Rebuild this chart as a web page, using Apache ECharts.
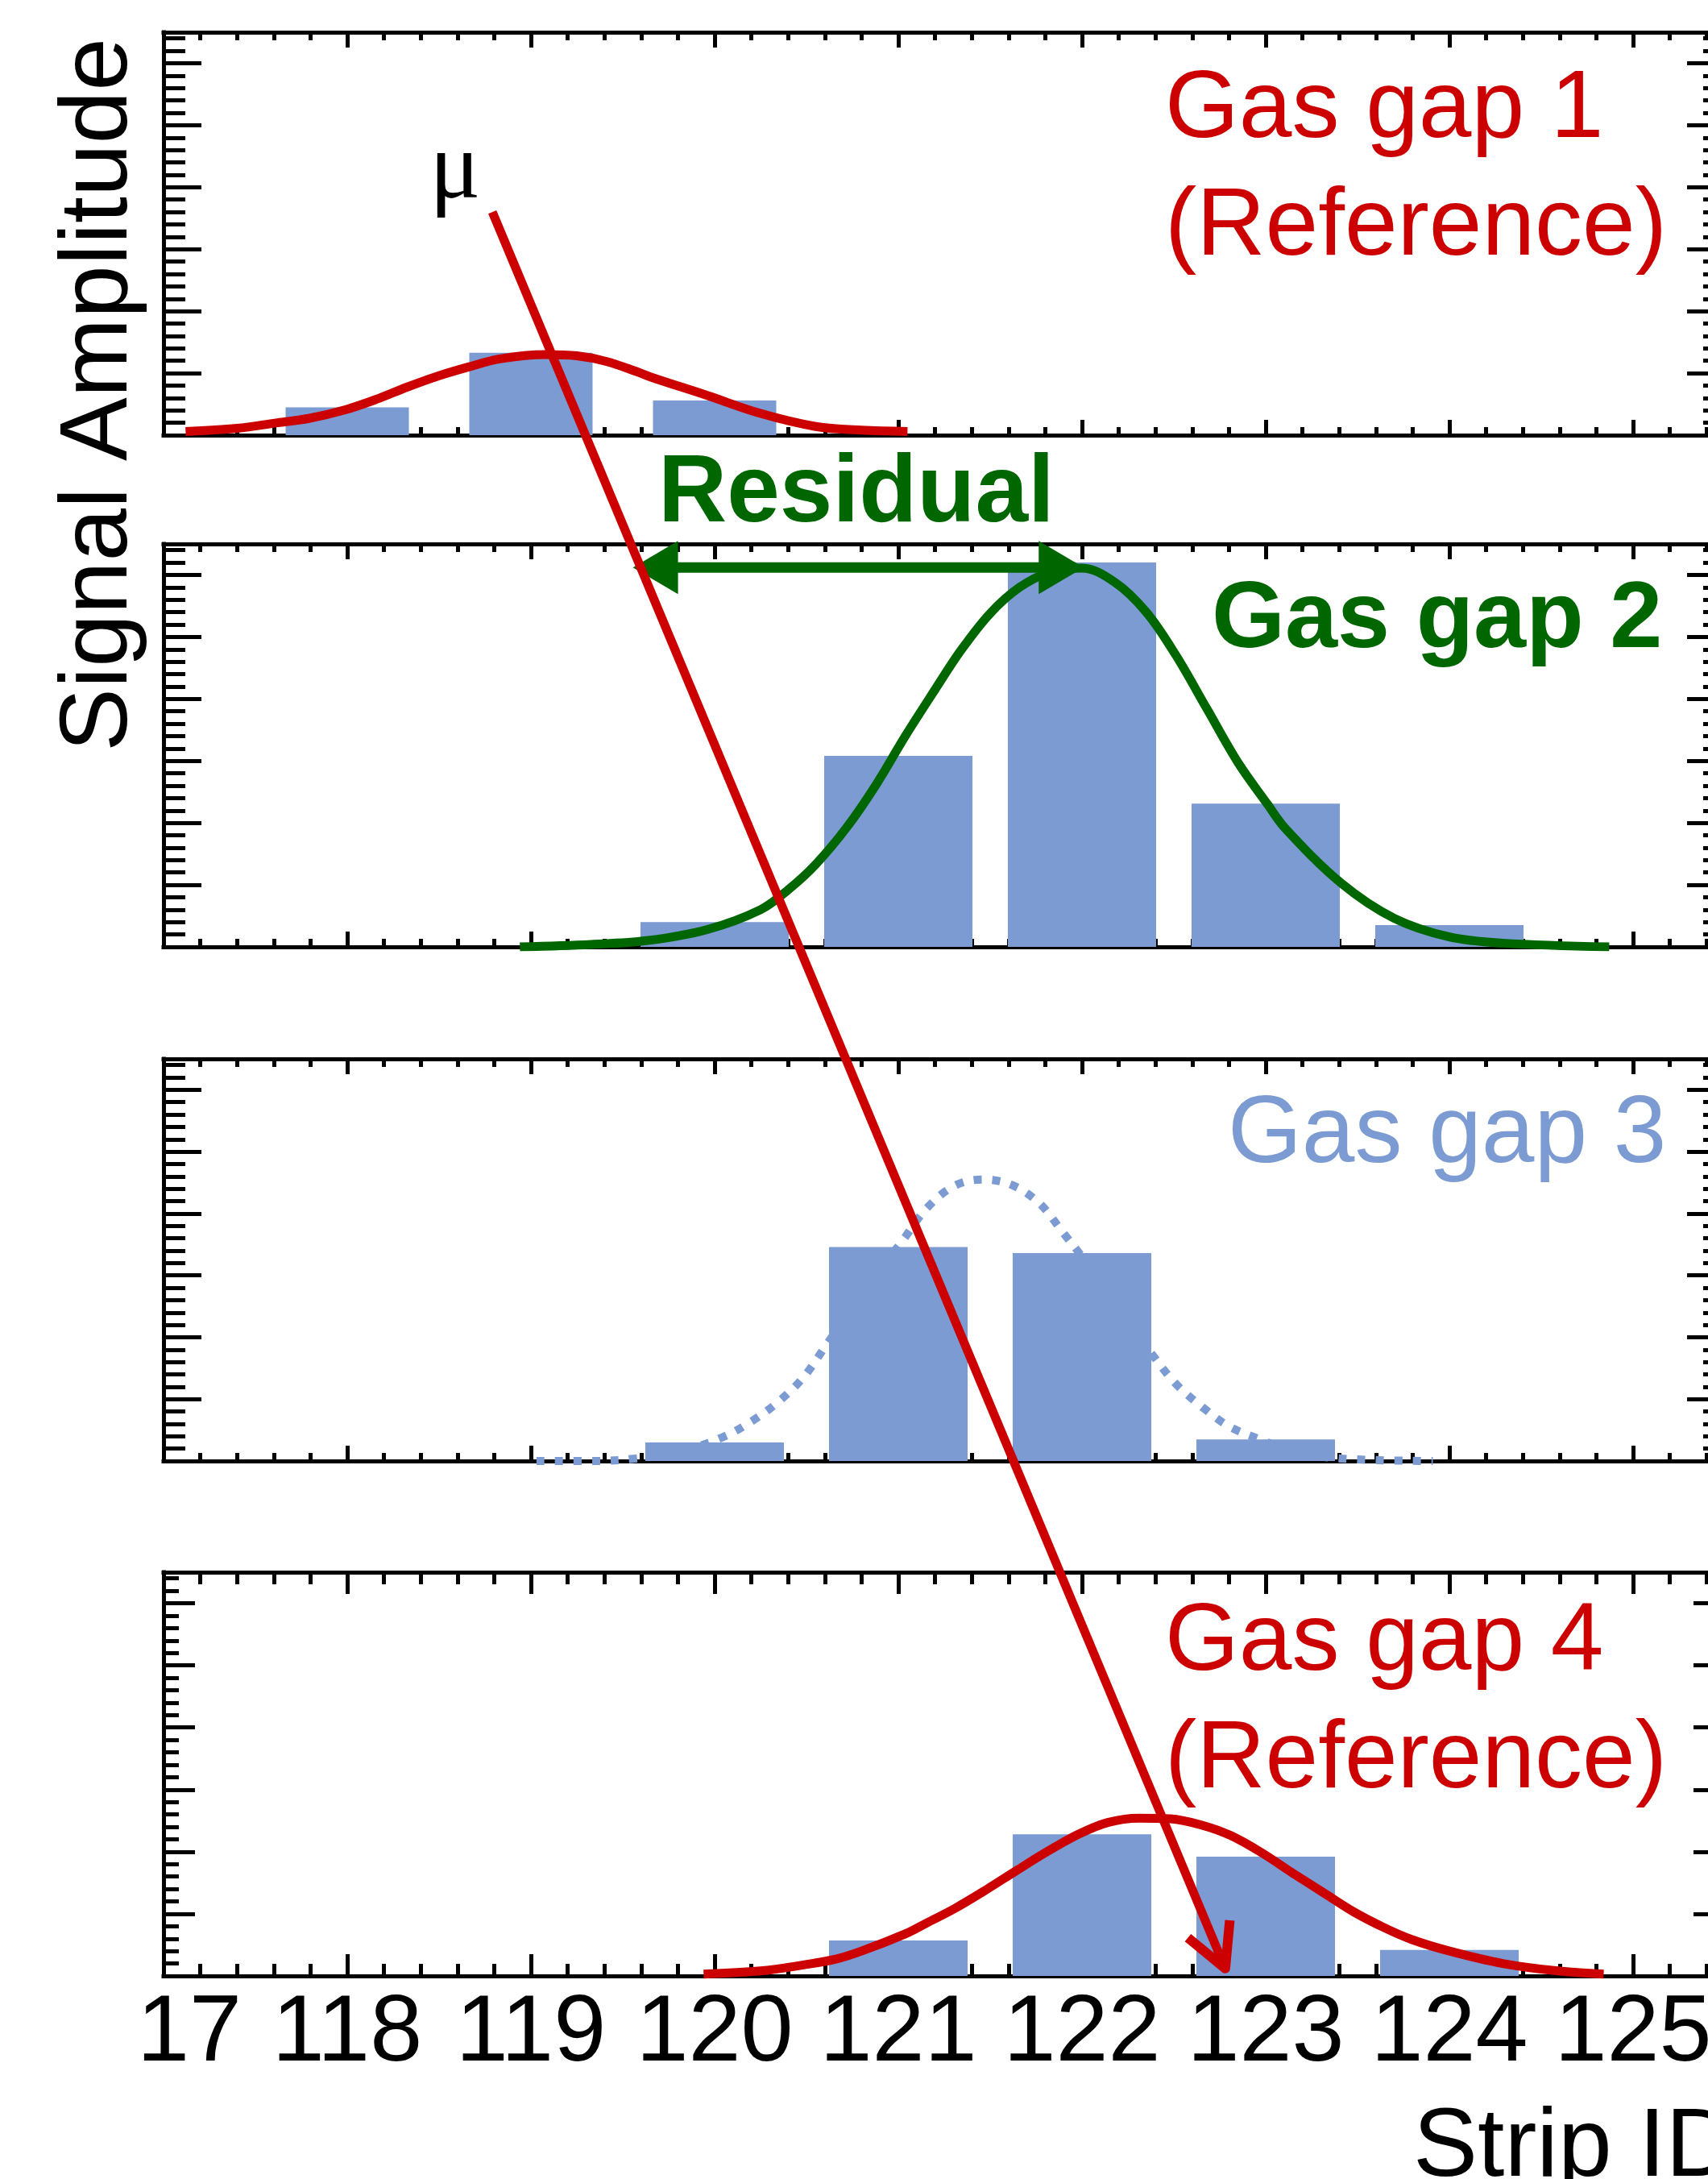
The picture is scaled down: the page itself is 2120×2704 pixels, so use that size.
<!DOCTYPE html>
<html>
<head>
<meta charset="utf-8">
<script src="https://cdn.jsdelivr.net/npm/echarts@6/dist/echarts.min.js"></script>
<style>
html,body{margin:0;padding:0;background:#fff;}
#c{width:2120px;height:2704px;}
</style>
</head>
<body>
<div id="c"></div>
<script>
// ---------------- data ----------------
const stripMin = 117;
const stripMax = 125.5;
const xTickLabels = ['17', '118', '119', '120', '121', '122', '123', '124', '125']; // strips 117..125

const gap1Strips = [118, 119, 120];
const gap1Amp    = [0.45, 1.33, 0.56];
const gap2Strips = [120, 121, 122, 123, 124];
const gap2Amp    = [0.40, 3.08, 6.20, 2.31, 0.35];
const gap3Strips = [120, 121, 122, 123];
const gap3Amp    = [0.30, 3.46, 3.36, 0.35];
const gap4Strips = [121, 122, 123, 124];
const gap4Amp    = [0.57, 2.28, 1.92, 0.42];

const gap1FitX = [117.12, 117.40, 117.62, 117.79, 117.99, 118.16, 118.33, 118.49, 118.66, 118.83, 119.08, 119.25, 119.41, 119.58, 119.66, 119.96, 120.25, 120.55, 120.80, 121.05];
const gap1FitY = [0.06, 0.11, 0.20, 0.27, 0.41, 0.58, 0.78, 0.95, 1.10, 1.23, 1.30, 1.28, 1.19, 1.02, 0.93, 0.64, 0.35, 0.14, 0.08, 0.06];

const gap2FitX = [118.94, 119.33, 119.63, 119.96, 120.25, 120.40, 120.55, 120.72, 120.88, 121.04, 121.20, 121.34, 121.50, 121.66, 121.82, 122.00, 122.18, 122.35, 122.51, 122.68, 122.85, 123.01, 123.11, 123.41, 123.70, 124.00, 124.29, 124.87];
const gap2FitY = [0.00, 0.04, 0.10, 0.28, 0.60, 0.92, 1.33, 1.93, 2.62, 3.41, 4.15, 4.78, 5.38, 5.80, 6.04, 6.11, 5.88, 5.40, 4.71, 3.84, 2.97, 2.30, 1.90, 1.03, 0.46, 0.16, 0.06, 0.00];

const gap3FitX = [119.03, 119.36, 119.57, 119.80, 120.04, 120.19, 120.34, 120.48, 120.60, 120.80, 121.03, 121.15, 121.30, 121.46, 121.62, 121.77, 121.90, 122.00, 122.20, 122.38, 122.51, 122.66, 122.80, 122.96, 123.15, 123.41, 123.91];
const gap3FitY = [0.00, 0.00, 0.04, 0.14, 0.38, 0.62, 0.94, 1.34, 1.84, 2.70, 3.59, 4.07, 4.44, 4.55, 4.46, 4.16, 3.68, 3.30, 2.45, 1.73, 1.25, 0.86, 0.56, 0.36, 0.16, 0.04, 0.00];

const gap4FitX = [119.94, 120.25, 120.49, 120.66, 120.80, 121.04, 121.14, 121.31, 121.48, 121.64, 121.81, 121.98, 122.14, 122.31, 122.48, 122.65, 122.81, 122.98, 123.15, 123.32, 123.48, 123.65, 123.80, 124.00, 124.29, 124.59, 124.84];
const gap4FitY = [0.03, 0.08, 0.18, 0.27, 0.40, 0.68, 0.83, 1.09, 1.39, 1.69, 2.00, 2.28, 2.47, 2.54, 2.53, 2.43, 2.26, 1.98, 1.65, 1.33, 1.03, 0.77, 0.58, 0.40, 0.20, 0.08, 0.03];

// muon track: start in gas gap 1 panel, arrow tip in gas gap 4 panel (strip, amplitude units)
const trackStart = [118.79, 3.60];
const trackEnd   = [122.78, 0.12];
// residual double arrow in gas gap 2 panel
const residualFrom = [119.555, 6.12];
const residualTo   = [122.01, 6.12];

// ---------------- styling / layout ----------------
const FONT = '"Liberation Sans", Arial, Helvetica, sans-serif';
const SERIF = '"Liberation Serif", "Times New Roman", serif';
const RED = '#cc0000', GREEN = '#006600', BLUE = '#7b9bd2', BLACK = '#000000';
const yMax = 6.5;
const GRID_LEFT = 203, GRID_WIDTH = 1938;
const FRAME_W = 5;

const panels = [
  {top: 40,   height: 500, xMaj: 19, xMin: 10, yMaj: 47, yMin: 27, strips: gap1Strips, amp: gap1Amp, barW: 153, fx: gap1FitX, fy: gap1FitY, color: RED,   dash: 'solid', fitOnTop: true},
  {top: 675,  height: 500, xMaj: 19, xMin: 10, yMaj: 47, yMin: 27, strips: gap2Strips, amp: gap2Amp, barW: 184, fx: gap2FitX, fy: gap2FitY, color: GREEN, dash: 'solid', fitOnTop: true},
  {top: 1314, height: 499, xMaj: 19, xMin: 10, yMaj: 47, yMin: 27, strips: gap3Strips, amp: gap3Amp, barW: 172, fx: gap3FitX, fy: gap3FitY, color: BLUE,  dash: [10, 13], fitOnTop: false},
  {top: 1951, height: 501, xMaj: 27, xMin: 15, yMaj: 39, yMin: 19, strips: gap4Strips, amp: gap4Amp, barW: 172, fx: gap4FitX, fy: gap4FitY, color: RED,   dash: 'solid', fitOnTop: true}
];

const zip = (a, b) => a.map((v, i) => [v, b[i]]);

function labelFormatter(v) {
  if (Math.abs(v - Math.round(v)) > 1e-6) return '';
  const i = Math.round(v - stripMin);
  if (i < 0 || i >= xTickLabels.length) return '';
  if (i === 0) return '{first|' + xTickLabels[i] + '}';
  return xTickLabels[i];
}

const grids = [], xAxes = [], yAxes = [], series = [];
panels.forEach((p, g) => {
  grids.push({left: GRID_LEFT, top: p.top, width: GRID_WIDTH, height: p.height, containLabel: false, outerBoundsMode: 'none', show: false});
  [['bottom', true], ['bottom', false], ['top', true], ['top', false]].forEach(([pos, major]) => {
    xAxes.push({
      type: 'value', gridIndex: g, position: pos, min: stripMin, max: stripMax, interval: major ? 1 : 0.2,
      axisLine: {show: major, onZero: false, lineStyle: {color: BLACK, width: FRAME_W, cap: 'square'}},
      axisTick: {show: true, inside: true, length: major ? p.xMaj : p.xMin, lineStyle: {color: BLACK, width: FRAME_W}},
      axisLabel: {
        show: major && pos === 'bottom' && g === 3, margin: 14, fontSize: 117, fontFamily: FONT, color: BLACK,
        formatter: labelFormatter,
        rich: {first: {padding: [0, 0, 0, 64], fontSize: 117, fontFamily: FONT, color: BLACK}}
      },
      splitLine: {show: false}
    });
  });
  [['left', true], ['left', false], ['right', true], ['right', false]].forEach(([pos, major]) => {
    yAxes.push({
      type: 'value', gridIndex: g, position: pos, min: 0, max: yMax, interval: major ? 1 : 0.2,
      axisLine: {show: major, onZero: false, lineStyle: {color: BLACK, width: FRAME_W, cap: 'square'}},
      axisTick: {show: true, inside: true, length: major ? p.yMaj : p.yMin, lineStyle: {color: BLACK, width: FRAME_W}},
      axisLabel: {show: false},
      splitLine: {show: false}
    });
  });
  series.push({
    type: 'bar', xAxisIndex: 4 * g, yAxisIndex: 4 * g,
    data: zip(p.strips, p.amp), barWidth: p.barW,
    itemStyle: {color: BLUE, borderWidth: 0},
    z: p.fitOnTop ? 2 : 4, silent: true
  });
  series.push({
    type: 'line', xAxisIndex: 4 * g, yAxisIndex: 4 * g,
    data: zip(p.fx, p.fy), smooth: 0.35, showSymbol: false, symbol: 'none',
    lineStyle: {color: p.color, width: p.dash === 'solid' ? 11 : 10, type: p.dash, cap: 'butt', join: 'round'},
    z: p.fitOnTop ? 4 : 2, silent: true
  });
});

const chart = echarts.init(document.getElementById('c'), null, {renderer: 'canvas', width: 2120, height: 2704});
chart.setOption({
  animation: false,
  backgroundColor: '#ffffff',
  grid: grids, xAxis: xAxes, yAxis: yAxes, series: series
});

// ---------------- annotations placed through the axes' scales ----------------
const toPx = (g, pt) => chart.convertToPixel({xAxisIndex: 4 * g, yAxisIndex: 4 * g}, pt);
const A = toPx(0, trackStart), B = toPx(3, trackEnd);
const ang = Math.atan2(B[1] - A[1], B[0] - A[0]);
const headLen = 60, headAng = 28 * Math.PI / 180;
const barb = s => [B[0] - headLen * Math.cos(ang + s * headAng), B[1] - headLen * Math.sin(ang + s * headAng)];

const L = toPx(1, residualFrom), R = toPx(1, residualTo);
const gHead = 56, gHalf = 33;

function txt(text, x, y, size, color, opts) {
  opts = opts || {};
  const font = (opts.bold ? 'bold ' : 'normal ') + size + 'px ' + (opts.family || FONT);
  return {
    type: 'text', x: x, y: y, rotation: opts.rotation || 0, z: 50, silent: true,
    style: {text: text, font: font, fill: color,
      align: opts.align || 'left', textAlign: opts.align || 'left',
      verticalAlign: 'middle', textVerticalAlign: 'middle'}
  };
}
const mid = (baseline, size) => baseline - 0.3465 * size + 8;

chart.setOption({
  graphic: [
    // residual arrow
    {type: 'line', z: 90, silent: true, shape: {x1: L[0] + 10, y1: L[1], x2: R[0] - 10, y2: R[1]}, style: {stroke: GREEN, lineWidth: 13}},
    {type: 'polygon', z: 90, silent: true, shape: {points: [[L[0], L[1]], [L[0] + gHead, L[1] - gHalf], [L[0] + gHead, L[1] + gHalf]]}, style: {fill: GREEN}},
    {type: 'polygon', z: 90, silent: true, shape: {points: [[R[0], R[1]], [R[0] - gHead, R[1] - gHalf], [R[0] - gHead, R[1] + gHalf]]}, style: {fill: GREEN}},
    // muon track
    {type: 'line', z: 100, silent: true, shape: {x1: A[0], y1: A[1], x2: B[0], y2: B[1]}, style: {stroke: RED, lineWidth: 11}},
    {type: 'polyline', z: 100, silent: true, shape: {points: [barb(1), B, barb(-1)]}, style: {stroke: RED, lineWidth: 12, lineJoin: 'round', fill: null}},
    // texts
    txt('\u03bc', 565, mid(247, 118), 118, BLACK, {align: 'center', family: SERIF}),
    txt('Gas gap 1', 1446, mid(170, 118), 118, RED),
    txt('(Reference)', 1446, mid(316, 118), 118, RED),
    txt('Residual', 817, mid(647, 118), 118, GREEN, {bold: true}),
    txt('Gas gap 2', 1504, mid(803, 117), 117, GREEN, {bold: true}),
    txt('Gas gap 3', 1524, mid(1442, 118), 118, BLUE),
    txt('Gas gap 4', 1446, mid(2072, 118), 118, RED),
    txt('(Reference)', 1446, mid(2218, 118), 118, RED),
    txt('Strip ID', 1754, mid(2700, 120), 120, BLACK),
    txt('Signal Amplitude', 159 - 0.3465 * 118 + 6, 490, 118, BLACK, {align: 'center', rotation: Math.PI / 2})
  ]
});
</script>
</body>
</html>
